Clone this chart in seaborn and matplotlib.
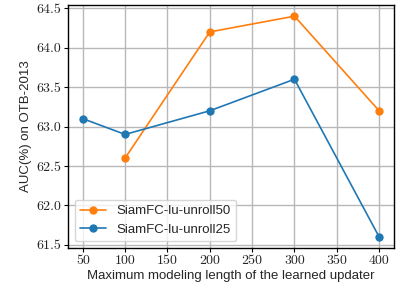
import numpy as np
import pandas as pd
import matplotlib
matplotlib.use("Agg")
import matplotlib.pyplot as plt
import seaborn as sns

# data
lengths_50 = [100, 200, 300, 400]
auc_unroll50 = [62.6, 64.2, 64.4, 63.2]
lengths_25 = [50, 100, 200, 300, 400]
auc_unroll25 = [63.1, 62.9, 63.2, 63.6, 61.6]
series_names = ["SiamFC-lu-unroll50", "SiamFC-lu-unroll25"]
x_ticks = [50, 100, 150, 200, 250, 300, 350, 400]
y_ticks = [61.5, 62.0, 62.5, 63.0, 63.5, 64.0, 64.5]

df = pd.concat([
    pd.DataFrame({"length": lengths_50, "auc": auc_unroll50, "model": series_names[0]}),
    pd.DataFrame({"length": lengths_25, "auc": auc_unroll25, "model": series_names[1]}),
])

sns.set_style("whitegrid", {"grid.color": "#b8b8b8", "axes.edgecolor": "black",
                            "xtick.bottom": True, "ytick.left": True})
plt.rcParams["font.family"] = ["Liberation Sans", "DejaVu Sans"]
plt.rcParams["axes.formatter.use_mathtext"] = True

fig = plt.figure(figsize=(4.02, 2.85), dpi=100)
ax = fig.add_axes([0.169, 0.13, 0.811, 0.852])

palette = {series_names[0]: "#ff7f0e", series_names[1]: "#1f77b4"}
sns.lineplot(data=df, x="length", y="auc", hue="model", hue_order=series_names,
             palette=palette, marker="o", markersize=6, markeredgewidth=0,
             linewidth=1.2, ax=ax)

ax.set_xticks(x_ticks)
ax.set_yticks(y_ticks)
ax.set_xticklabels([str(t) for t in x_ticks], family="cmr10", fontsize=10)
ax.set_yticklabels([f"{t:.1f}" for t in y_ticks], family="cmr10", fontsize=10)
ax.tick_params(axis="both", length=3, width=0.8, color="black", pad=2)
ax.grid(True, linewidth=1.0)
for s in ax.spines.values():
    s.set_linewidth(1.0)

ax.set_xlabel("Maximum modeling length of the learned updater", fontsize=9.5, labelpad=2)
ax.set_ylabel("AUC(%) on OTB-2013", fontsize=9.5, labelpad=3)

leg = ax.legend(loc="lower left", fontsize=9.5, frameon=True, framealpha=0.8,
                borderpad=0.4, handlelength=2.0)
leg.set_title(None)

fig.savefig("out.png", dpi=100)
